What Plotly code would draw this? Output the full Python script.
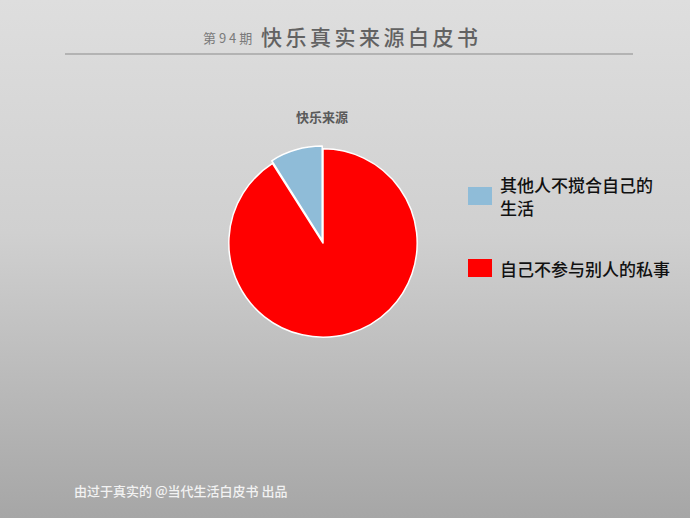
import base64
import plotly.graph_objects as go

# data
labels = ["其他人不搅合自己的<br>生活", "自己不参与别人的私事"]
values = [9, 91]
colors = ["#8fbcd8", "#ff0000"]
pulls = [0.03, 0]

issue = "第 9 4 期"
title = "快乐真实来源白皮书"
chart_title = "快乐来源"
footer = "由过于真实的 @当代生活白皮书 出品"

W, H = 690, 518
FONT = "Noto Sans CJK SC"
SP = "\u2006"  # small gap between title characters

# grey gradient background as an svg image
svg = (
    f"<svg xmlns='http://www.w3.org/2000/svg' width='{W}' height='{H}'>"
    "<defs><linearGradient id='g' x1='0' y1='0' x2='0' y2='1'>"
    "<stop offset='0' stop-color='#dedede'/>"
    "<stop offset='0.45' stop-color='#d0d0d0'/>"
    "<stop offset='1' stop-color='#a6a6a6'/>"
    "</linearGradient></defs>"
    f"<rect width='{W}' height='{H}' fill='url(#g)'/></svg>"
)
bg = "data:image/svg+xml;base64," + base64.b64encode(svg.encode()).decode()

# first slice should end at 12 o'clock, sitting to the left of it
start = -360 * values[0] / sum(values)

fig = go.Figure(go.Pie(
    labels=labels, values=values, sort=False,
    direction="clockwise", rotation=start,
    pull=pulls,
    marker=dict(colors=colors, line=dict(color="white", width=1.5)),
    textinfo="none", hoverinfo="label+percent",
    domain=dict(x=[(323 - 97) / W, (323 + 97) / W],
                y=[(H - 243 - 97) / H, (H - 243 + 97) / H]),
    showlegend=False,
))

# hand-made legend, bigger boxes than plotly's own
shapes = []
annotations = []
legend_y = [196, 268]
LINE = 22
for lab, col, yc in zip(labels, colors, legend_y):
    shapes.append(dict(type="rect", xref="paper", yref="paper",
                       x0=468 / W, x1=492 / W,
                       y0=(H - yc - 9) / H, y1=(H - yc + 9) / H,
                       fillcolor=col, line=dict(width=0)))
    rows = lab.split("<br>")
    top = yc - LINE * (len(rows) - 1) / 2
    for i, row in enumerate(rows):
        annotations.append(dict(text=row, x=499 / W,
                                y=(H - top - i * LINE) / H,
                                xref="paper", yref="paper", xanchor="left",
                                yanchor="middle", align="left",
                                showarrow=False, borderpad=0,
                                font=dict(family=FONT, size=17, color="#111",
                                          weight=500)))

# rule under the header
shapes.append(dict(type="line", xref="paper", yref="paper",
                   x0=65 / W, x1=633 / W, y0=(H - 54) / H, y1=(H - 54) / H,
                   line=dict(color="#b3b3b3", width=2)))

annotations += [
    dict(text=issue, x=254 / W, y=(H - 38) / H, xanchor="right",
         font=dict(family=FONT, size=13, color="#7a7a7a")),
    dict(text=SP.join(title), x=259 / W, y=(H - 36) / H, xanchor="left",
         font=dict(family=FONT, size=21, color="#626262", weight=500)),
    dict(text="<b>" + chart_title + "</b>", x=322 / W, y=(H - 116) / H,
         xanchor="center", font=dict(family=FONT, size=13, color="#5a5a5a")),
    dict(text=footer, x=72 / W, y=(H - 490) / H, xanchor="left",
         font=dict(family=FONT, size=13, color="#f2f2f2", weight=500)),
]
for a in annotations[-4:]:
    a.update(xref="paper", yref="paper", yanchor="middle", showarrow=False)

fig.update_layout(
    width=W, height=H,
    margin=dict(l=0, r=0, t=0, b=0),
    paper_bgcolor="#cccccc",
    plot_bgcolor="rgba(0,0,0,0)",
    images=[dict(source=bg, xref="paper", yref="paper", x=0, y=1,
                 sizex=1, sizey=1, sizing="stretch", layer="below")],
    shapes=shapes,
    annotations=annotations,
)

fig.write_html("out.html", config={"displayModeBar": False},
               post_script="document.body.style.margin='0';")
